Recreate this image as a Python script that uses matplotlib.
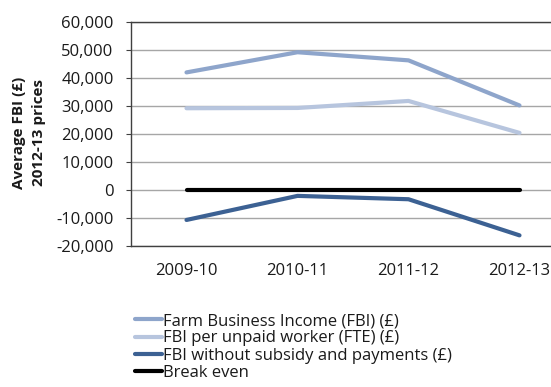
import matplotlib.pyplot as plt
from matplotlib.ticker import FuncFormatter

years = ["2009-10", "2010-11", "2011-12", "2012-13"]
fbi = [42000, 49200, 46300, 30200]
fbi_per_worker = [29200, 29300, 31800, 20400]
fbi_no_subsidy = [-10700, -2100, -3300, -16200]
break_even = [0, 0, 0, 0]

series = [
    ("Farm Business Income (FBI) (£)", fbi, "#8ea5cb"),
    ("FBI per unpaid worker (FTE) (£)", fbi_per_worker, "#b7c5de"),
    ("FBI without subsidy and payments (£)", fbi_no_subsidy, "#3c6193"),
    ("Break even", break_even, "#000000"),
]

plt.rcParams["font.family"] = ["Open Sans", "DejaVu Sans"]
plt.rcParams["text.color"] = "#1a1a1a"

fig = plt.figure(figsize=(5.51, 3.87), dpi=100)
W, H = 551, 387
left, right, top, bottom = 131, 575, 22, 246
ax = fig.add_axes([left / W, 1 - bottom / H, (right - left) / W, (bottom - top) / H])

x = range(len(years))
handles = []
for label, vals, color in series:
    h, = ax.plot(x, vals, color=color, lw=3.0, solid_capstyle="round", label=label)
    handles.append(h)

ax.set_xlim(-0.5, 3.5)
ax.set_ylim(-20000, 60000)
ax.set_yticks(range(-20000, 60001, 10000))
ax.yaxis.set_major_formatter(FuncFormatter(lambda v, _: f"{int(v):,}"))
ax.set_xticks(list(x))
ax.set_xticklabels(years)
ax.tick_params(axis="y", length=3.6, color="#404040", labelsize=12, pad=9,
               labelcolor="#1a1a1a")
ax.tick_params(axis="x", length=0, labelsize=12, pad=12, labelcolor="#1a1a1a")
ax.grid(axis="y", color="#a6a6a6", lw=1)
ax.set_axisbelow(True)
for side in ["left", "top", "bottom"]:
    ax.spines[side].set_color("#404040")
    ax.spines[side].set_linewidth(1)
ax.spines["right"].set_visible(False)

fig.text(29 / W, 1 - 133 / H, "Average FBI (£)\n2012-13 prices", rotation=90,
         ha="center", va="center", fontsize=11, fontweight="bold", linespacing=1.6)

fig.legend(handles=handles, loc="upper left", bbox_to_anchor=(135 / W, 1 - 313 / H),
           frameon=False, fontsize=12, handlelength=1.62, handletextpad=0.05,
           labelspacing=0.08, borderaxespad=0, borderpad=0)

fig.savefig("out.png", dpi=100)
